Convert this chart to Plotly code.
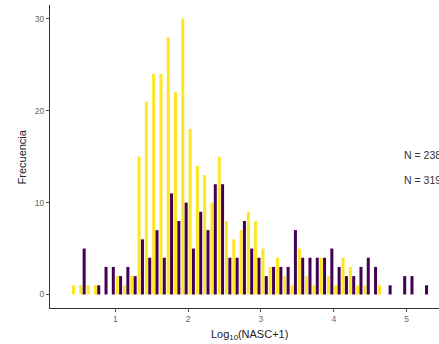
import plotly.graph_objects as go

# Bin centres of the histogram (log10(NASC+1), bin width 0.1)
bin_centers = [0.45, 0.55, 0.65, 0.75, 0.85, 0.95, 1.05, 1.15, 1.25, 1.35,
               1.45, 1.55, 1.65, 1.75, 1.85, 1.95, 2.05, 2.15, 2.25, 2.35,
               2.45, 2.55, 2.65, 2.75, 2.85, 2.95, 3.05, 3.15, 3.25, 3.35,
               3.45, 3.55, 3.65, 3.75, 3.85, 3.95, 4.05, 4.15, 4.25, 4.35,
               4.45, 4.55, 4.65, 4.75, 4.85, 4.95, 5.05, 5.15, 5.25]

yellow_counts = [1, 1, 1, 1, 0, 0, 2, 1, 2, 15,
                 21, 24, 24, 28, 22, 30, 18, 14, 13, 10,
                 15, 8, 6, 7, 9, 8, 5, 3, 4, 2,
                 1, 5, 2, 1, 4, 2, 1, 4, 3, 1,
                 1, 0, 1, 0, 0, 0, 0, 0, 0]

purple_counts = [0, 5, 0, 1, 3, 3, 2, 3, 2, 6,
                 4, 7, 4, 11, 8, 10, 5, 9, 7, 12,
                 12, 4, 4, 8, 5, 4, 2, 3, 3, 3,
                 7, 4, 4, 4, 4, 5, 3, 2, 2, 3,
                 4, 3, 0, 1, 0, 2, 2, 0, 1]

x_ticks = [1, 2, 3, 4, 5]
y_ticks = [0, 10, 20, 30]
n_labels = ["N = 238", "N = 319"]

YELLOW = "#FDE725"
PURPLE = "#440154"

fig = go.Figure()
fig.add_trace(go.Bar(x=bin_centers, y=yellow_counts, marker_color=YELLOW,
                     marker_line_width=0, name="A", showlegend=False))
fig.add_trace(go.Bar(x=bin_centers, y=purple_counts, marker_color=PURPLE,
                     marker_line_width=0, name="B", showlegend=False))

axis_common = dict(showgrid=False, zeroline=False, showline=True,
                   linecolor="#333333", linewidth=1.2, ticks="outside",
                   ticklen=3, tickwidth=1, tickcolor="#555555",
                   tickfont=dict(family="Liberation Sans, Arial", size=8.5, color="#666666"))

fig.update_layout(
    width=439, height=344,
    margin=dict(l=50, r=0, t=5, b=36),
    paper_bgcolor="white", plot_bgcolor="white",
    barmode="group", bargap=0.08, bargroupgap=0.1,
    xaxis=dict(range=[0.104, 5.444], tickvals=x_ticks, **axis_common),
    yaxis=dict(range=[-1.47, 31.5], tickvals=y_ticks, **axis_common),
    font=dict(family="Liberation Sans, Arial"),
    annotations=[
        dict(text="Log<sub>10</sub>(NASC+1)", xref="paper", yref="paper",
             x=0.514, y=-0.09, xanchor="center", yanchor="middle",
             showarrow=False, font=dict(size=11, color="#222222")),
        dict(text="Frecuencia", xref="paper", yref="paper",
             x=-0.072, y=0.5, xanchor="center", yanchor="middle",
             textangle=-90, showarrow=False, font=dict(size=11, color="#222222")),
        dict(text=n_labels[0], xref="paper", yref="paper",
             x=0.9036, y=0.505, xanchor="left", yanchor="middle",
             showarrow=False, font=dict(size=10.5, color="#333333")),
        dict(text=n_labels[1], xref="paper", yref="paper",
             x=0.9036, y=0.422, xanchor="left", yanchor="middle",
             showarrow=False, font=dict(size=10.5, color="#333333")),
    ],
)

fig.write_html("out.html")
